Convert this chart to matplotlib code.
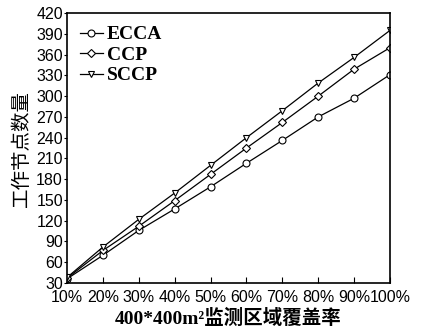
import matplotlib
matplotlib.use("Agg")
import matplotlib.pyplot as plt

coverage = [10, 20, 30, 40, 50, 60, 70, 80, 90, 100]
tick_labels = [f"{c}%" for c in coverage]

ecca = [36, 70, 106, 137, 169, 203, 236, 270, 297, 331]
ccp = [37, 77, 112, 149, 187, 225, 262, 300, 339, 370]
sccp = [38, 82, 122, 160, 200, 240, 279, 319, 356, 395]

yticks = list(range(30, 421, 30))

fig = plt.figure(figsize=(4.22, 3.29), dpi=100)
ax = fig.add_axes([0.159, 0.140, 0.765, 0.820])

style = dict(color="black", linewidth=0.9, markerfacecolor="white",
             markeredgecolor="black", markeredgewidth=0.8, markersize=5)
ax.plot(coverage, ecca, "o-", label="ECCA", **style)
ax.plot(coverage, ccp, "D-", label="CCP", **dict(style, markersize=4.3))
ax.plot(coverage, sccp, "v-", label="SCCP", **style)

ax.set_xlim(10, 100)
ax.set_ylim(30, 420)
ax.set_xticks(coverage)
ax.set_xticklabels(tick_labels)
ax.set_yticks(yticks)

for lab in ax.get_xticklabels() + ax.get_yticklabels():
    lab.set_fontfamily("Liberation Sans")
    lab.set_fontsize(11.5)
ax.tick_params(axis="x", direction="in", length=4, width=0.8, pad=5)
ax.tick_params(axis="y", direction="out", length=2, width=0.8, pad=1)
for sp in ax.spines.values():
    sp.set_linewidth(1.2)

ax.set_xlabel("400*400m²监测区域覆盖率", fontsize=14, fontweight="bold",
              family=["Liberation Serif", "Noto Sans CJK SC"], labelpad=3)
ax.set_ylabel("工作节点数量", fontsize=14,
              family=["Noto Sans CJK SC", "DejaVu Sans"], labelpad=3)

leg = ax.legend(loc="upper left", frameon=False, handlelength=1.2,
                handletextpad=0.2, labelspacing=0.15, borderaxespad=0.25,
                prop={"family": "Liberation Serif", "weight": "bold", "size": 14})

fig.savefig("out.png", dpi=100)
